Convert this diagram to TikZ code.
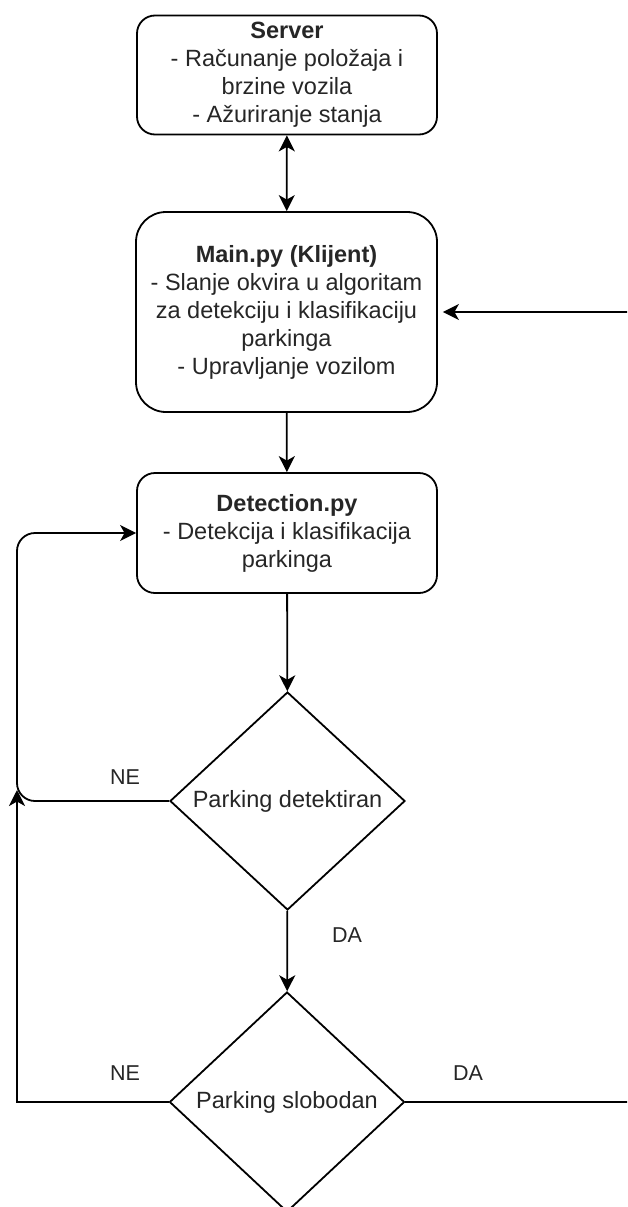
\documentclass[tikz,border=0pt]{standalone}
\usepackage{fontspec}
\setmainfont{Liberation Sans}
\usetikzlibrary{arrows.meta,shapes.geometric}
\tikzset{
  tip/.tip={Stealth[length=16pt,width=16pt,inset=4.5pt]},
  box/.style={draw, line width=1.8pt, align=center, inner sep=4pt,
    font=\fontsize{23.5}{28}\selectfont, text=black!85},
  dec/.style={draw, line width=1.8pt, shape=diamond, inner sep=0pt, align=center,
    font=\fontsize{23.5}{28}\selectfont, text=black!85},
  lbl/.style={font=\fontsize{21.5}{25}\selectfont, text=black!85, inner sep=0pt},
  arr/.style={line width=1.8pt, -tip},
  both/.style={line width=1.8pt, tip-tip}
}
\begin{document}
\begin{tikzpicture}[x=1pt,y=-1pt]
\useasboundingbox (0,0) rectangle (627,1207);
\clip (0,0) rectangle (627,1207);
\fill[white] (0,0) rectangle (627,1207);

\node[box, rounded corners=18pt, minimum width=300pt, minimum height=119pt] (server) at (287,75)
  {\textbf{Server}\\- Računanje položaja i\\brzine vozila\\- Ažuriranje stanja};
\node[box, rounded corners=30pt, minimum width=301pt, minimum height=200pt] (main) at (286.5,312)
  {\textbf{Main.py (Klijent)}\\- Slanje okvira u algoritam\\za detekciju i klasifikaciju\\parkinga\\- Upravljanje vozilom};
\node[box, rounded corners=18pt, minimum width=300pt, minimum height=120pt] (det) at (287,533)
  {\textbf{Detection.py}\\- Detekcija i klasifikacija\\parkinga};
\node[dec, minimum width=235pt, minimum height=218pt] (d1) at (287.5,801) {Parking detektiran};
\node[dec, minimum width=235pt, minimum height=220pt] (d2) at (287,1102) {Parking slobodan};

\node[lbl] (ne1) at (125,777) {NE};
\node[lbl] (da1) at (347,935) {DA};
\node[lbl] (ne2) at (125,1073) {NE};
\node[lbl] (da2) at (468,1073) {DA};

\coordinate (lj) at (17,790);
\coordinate (rc) at (660,1102);

\draw[both] (server) -- (main);
\draw[arr] (main) -- (det);
\draw[arr] (det) -- (d1);
\draw[arr] (d1) -- (d2);
\draw[arr, rounded corners=18pt] (d1.west) -- (17,801) |- (det.west);
\draw[arr] (d2.west) -- (17,1102) -- (lj);
\draw[arr, shorten >=5pt] (d2.east) -- (rc) |- (main.east);
\end{tikzpicture}
\end{document}
